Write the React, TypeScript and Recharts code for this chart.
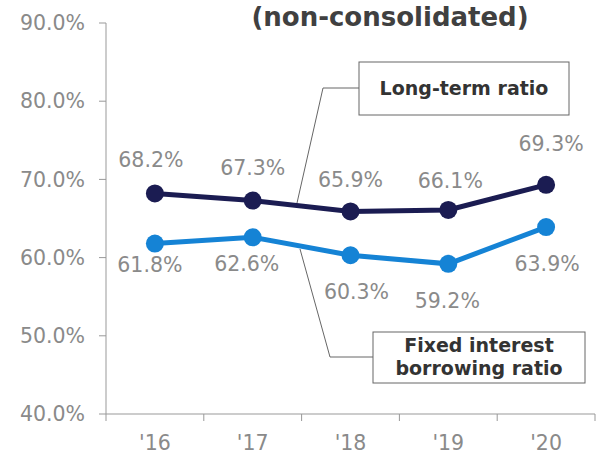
import React from "react";
import { LineChart, Line, XAxis, YAxis, LabelList } from "recharts";

const years = ["'16", "'17", "'18", "'19", "'20"];
const longTermRatio = [68.2, 67.3, 65.9, 66.1, 69.3];
const fixedInterestRatio = [61.8, 62.6, 60.3, 59.2, 63.9];
const yTicks = [40, 50, 60, 70, 80, 90];

const data = years.map((y, i) => ({
  year: y,
  longTerm: longTermRatio[i],
  fixed: fixedInterestRatio[i],
}));

const W = 599;
const H = 455;
const M = { top: 23, right: 4, left: 0, bottom: 0 };
const Y_W = 106;
const X_H = 41;
const PLOT_BOTTOM = H - X_H;
const HALF_BAND = (W - M.right - Y_W) / years.length / 2;

const FONT = "'DejaVu Sans', Verdana, sans-serif";
const GRAY = "#8a8a8a";
const DARK = "#1b1c52";
const LIGHT = "#1583d5";
const FS = 20.5;

// label offsets (style)
const darkDy = [33, 33, 31, 29, 41];
const darkDx = [-4, 0, 0, 2, 5];
const lightDy = [21, 27, 37, 37, 37];
const lightDx = [-5, -6, 6, -1, 1];

const fmt = (v: number) => `${v.toFixed(1)}%`;

const makeLabel = (dxs: number[], dys: number[], sign: number) => (props: any) => {
  const { x, y, value, index } = props;
  return (
    <text
      x={x + dxs[index]}
      y={y + sign * dys[index]}
      textAnchor="middle"
      dominantBaseline="central"
      fill={GRAY}
      fontSize={FS}
      fontFamily={FONT}
    >
      {fmt(value)}
    </text>
  );
};

const XTick = (props: any) => {
  const { x, payload, index } = props;
  return (
    <g>
      <line x1={x - HALF_BAND} x2={x - HALF_BAND} y1={PLOT_BOTTOM} y2={PLOT_BOTTOM + 7} stroke="#999" />
      {index === years.length - 1 && (
        <line x1={x + HALF_BAND} x2={x + HALF_BAND} y1={PLOT_BOTTOM} y2={PLOT_BOTTOM + 7} stroke="#999" />
      )}
      <text
        x={x}
        y={PLOT_BOTTOM + 29}
        textAnchor="middle"
        dominantBaseline="central"
        fill={GRAY}
        fontSize={FS}
        fontFamily={FONT}
      >
        {payload.value}
      </text>
    </g>
  );
};

export default function App() {
  return (
    <div style={{ position: "absolute", left: 0, top: 0, width: W, height: H, background: "#fff" }}>
      <LineChart width={W} height={H} data={data} margin={M}>
        <XAxis
          dataKey="year"
          height={X_H}
          tickLine={false}
          axisLine={{ stroke: "#999" }}
          tick={<XTick />}
          interval={0}
          padding={{ left: HALF_BAND, right: HALF_BAND }}
        />
        <YAxis
          width={Y_W}
          domain={[40, 90]}
          ticks={yTicks}
          tickFormatter={fmt}
          tickSize={7}
          tickMargin={14}
          axisLine={{ stroke: "#999" }}
          tickLine={{ stroke: "#999" }}
          tick={{ fill: GRAY, fontSize: FS, fontFamily: FONT }}
        />
        <Line
          dataKey="longTerm"
          stroke={DARK}
          strokeWidth={5}
          dot={{ r: 9, fill: DARK, stroke: DARK, strokeWidth: 0 }}
          isAnimationActive={false}
        >
          <LabelList dataKey="longTerm" content={makeLabel(darkDx, darkDy, -1)} />
        </Line>
        <Line
          dataKey="fixed"
          stroke={LIGHT}
          strokeWidth={5}
          dot={{ r: 9, fill: LIGHT, stroke: LIGHT, strokeWidth: 0 }}
          isAnimationActive={false}
        >
          <LabelList dataKey="fixed" content={makeLabel(lightDx, lightDy, 1)} />
        </Line>
      </LineChart>
      <svg
        width={W}
        height={H}
        style={{ position: "absolute", left: 0, top: 0, pointerEvents: "none" }}
      >
        <text
          x={390}
          y={17}
          textAnchor="middle"
          dominantBaseline="central"
          fill="#404040"
          fontSize={26}
          fontWeight="bold"
          fontFamily={FONT}
        >
          (non-consolidated)
        </text>
        <polyline points="359,88 323,88 297,203" fill="none" stroke="#666" strokeWidth={1} />
        <rect x={359} y={62} width={210} height={53} fill="#fff" stroke="#666" strokeWidth={1} />
        <text
          x={464}
          y={88}
          textAnchor="middle"
          dominantBaseline="central"
          fill="#333"
          fontSize={19}
          fontWeight="bold"
          fontFamily={FONT}
        >
          Long-term ratio
        </text>
        <polyline points="300,249 330,357 373,357" fill="none" stroke="#666" strokeWidth={1} />
        <rect x={373} y={332} width={212} height={51} fill="#fff" stroke="#666" strokeWidth={1} />
        <text
          x={479}
          y={345}
          textAnchor="middle"
          dominantBaseline="central"
          fill="#333"
          fontSize={19}
          fontWeight="bold"
          fontFamily={FONT}
        >
          Fixed interest
        </text>
        <text
          x={479}
          y={368}
          textAnchor="middle"
          dominantBaseline="central"
          fill="#333"
          fontSize={19}
          fontWeight="bold"
          fontFamily={FONT}
        >
          borrowing ratio
        </text>
      </svg>
    </div>
  );
}
